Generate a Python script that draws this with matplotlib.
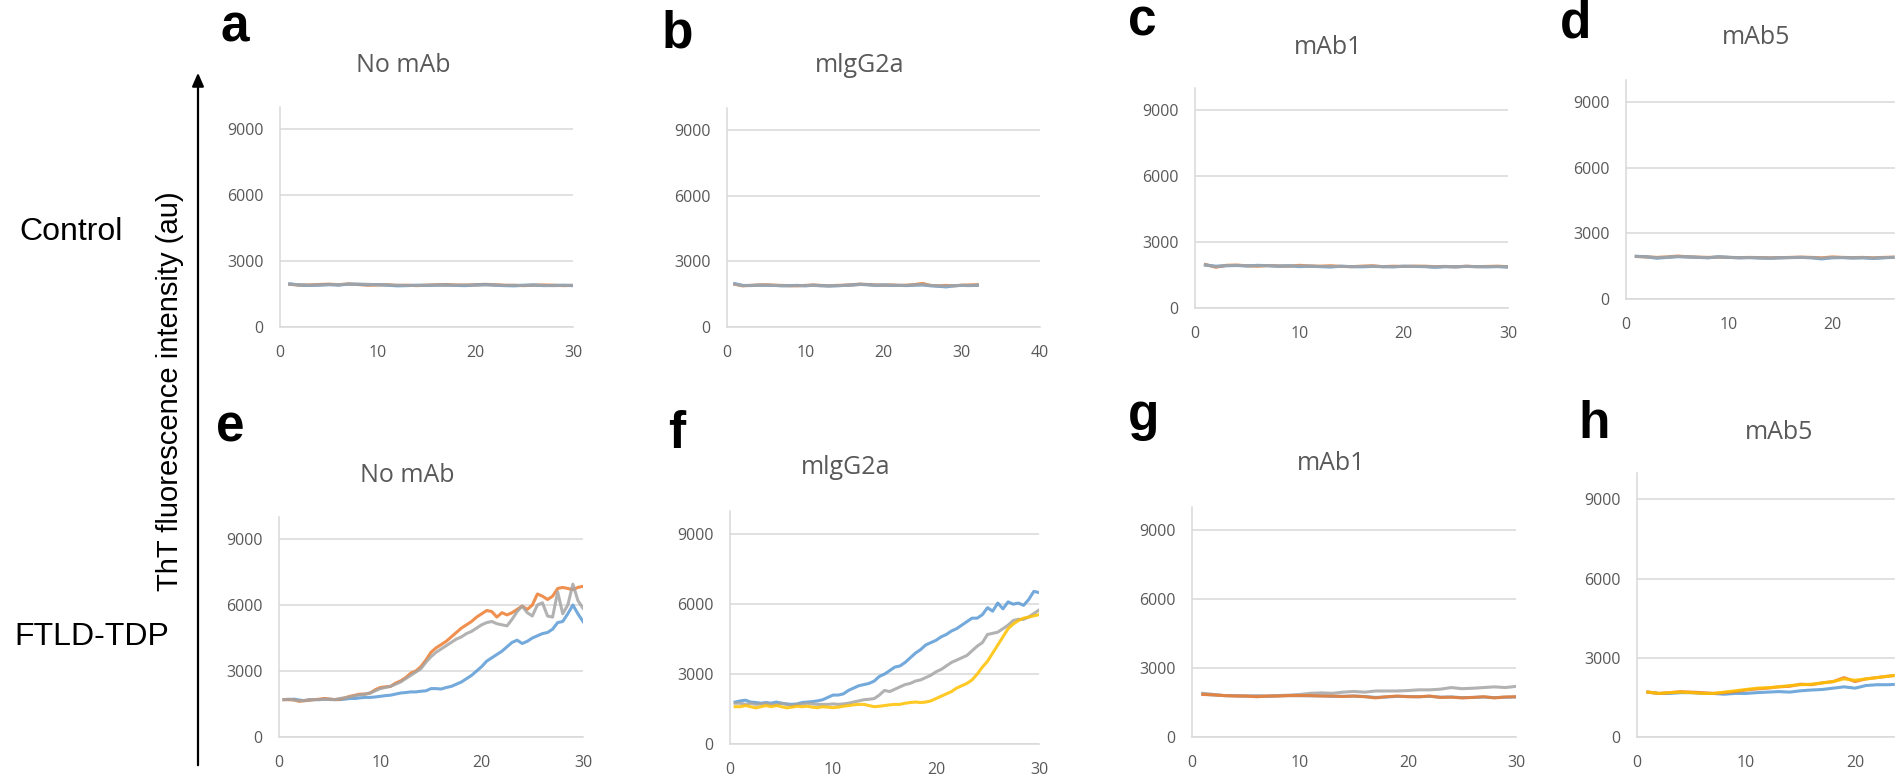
import matplotlib
matplotlib.use("Agg")
import matplotlib.pyplot as plt
import numpy as np
from matplotlib.patches import Rectangle, FancyArrowPatch

# ---- data (ThT fluorescence, au) ----
HOURS_1 = np.arange(1, 31)          # hourly reads, 1..30
HOURS_B = np.arange(1, 33)          # panel b runs a bit longer
HOURS_H = np.arange(0.5, 30.01, 0.5)  # half-hour reads for e, f

A_BLUE = [1960, 1910, 1890, 1900, 1930, 1900, 1950, 1940, 1920, 1930, 1900, 1870, 1880, 1900, 1890,
          1900, 1910, 1890, 1880, 1910, 1930, 1900, 1880, 1870, 1900, 1910, 1880, 1890, 1900, 1880]
A_ORANGE = [1940, 1900, 1910, 1930, 1950, 1920, 1960, 1930, 1900, 1910, 1920, 1890, 1900, 1880, 1900,
            1920, 1930, 1910, 1900, 1920, 1940, 1920, 1900, 1890, 1880, 1900, 1910, 1900, 1880, 1890]
A_GRAY = [1950, 1920, 1900, 1910, 1920, 1930, 1940, 1950, 1940, 1920, 1910, 1900, 1890, 1890, 1900,
          1900, 1890, 1900, 1910, 1900, 1910, 1910, 1890, 1900, 1890, 1900, 1890, 1880, 1890, 1900]

B_BLUE = [1980, 1900, 1890, 1910, 1900, 1900, 1880, 1890, 1900, 1880, 1910, 1890, 1870, 1880, 1900, 1920,
          1950, 1930, 1900, 1920, 1900, 1900, 1890, 1910, 1920, 1880, 1860, 1830, 1880, 1900, 1890, 1900]
B_ORANGE = [1950, 1880, 1900, 1920, 1930, 1910, 1900, 1890, 1880, 1900, 1920, 1900, 1880, 1900, 1910, 1930,
            1960, 1940, 1920, 1910, 1920, 1900, 1910, 1940, 1990, 1900, 1880, 1900, 1880, 1910, 1920, 1930]
B_GRAY = [1960, 1890, 1900, 1900, 1910, 1900, 1890, 1880, 1890, 1890, 1900, 1880, 1890, 1890, 1900, 1910,
          1940, 1930, 1910, 1910, 1910, 1900, 1900, 1920, 1930, 1900, 1880, 1870, 1890, 1900, 1900, 1910]

C_BLUE = [1950, 1900, 1920, 1930, 1910, 1940, 1920, 1900, 1920, 1880, 1900, 1880, 1860, 1900, 1880,
          1870, 1890, 1880, 1870, 1900, 1890, 1880, 1850, 1880, 1870, 1890, 1880, 1870, 1880, 1860]
C_ORANGE = [1980, 1850, 1940, 1950, 1920, 1900, 1930, 1910, 1900, 1940, 1910, 1900, 1920, 1890, 1880,
            1900, 1920, 1880, 1900, 1890, 1900, 1900, 1880, 1890, 1870, 1900, 1880, 1890, 1900, 1880]
C_GRAY = [1960, 1880, 1930, 1940, 1920, 1920, 1930, 1910, 1910, 1910, 1900, 1890, 1890, 1890, 1880,
          1890, 1900, 1880, 1880, 1890, 1890, 1890, 1870, 1880, 1880, 1890, 1880, 1880, 1890, 1870]

D_BLUE = [1950, 1930, 1860, 1900, 1930, 1920, 1900, 1880, 1930, 1900, 1880, 1890, 1870, 1860, 1880,
          1890, 1900, 1880, 1830, 1880, 1890, 1870, 1880, 1850, 1880, 1900, 1890, 1880, 1900, 1890]
D_ORANGE = [1940, 1920, 1900, 1920, 1960, 1930, 1910, 1900, 1910, 1900, 1890, 1900, 1890, 1880, 1890,
            1900, 1910, 1900, 1880, 1920, 1900, 1890, 1900, 1880, 1900, 1910, 1900, 1890, 1900, 1910]
D_GRAY = [1945, 1925, 1890, 1910, 1945, 1925, 1905, 1890, 1920, 1900, 1885, 1895, 1880, 1870, 1885,
          1895, 1905, 1890, 1860, 1900, 1895, 1880, 1890, 1870, 1890, 1905, 1895, 1885, 1900, 1900]

E_BLUE = [1700, 1700, 1720, 1680, 1650, 1680, 1700, 1700, 1720, 1720, 1700, 1700, 1720, 1750, 1750,
          1780, 1800, 1800, 1820, 1850, 1880, 1900, 1950, 2000, 2020, 2050, 2050, 2080, 2100, 2200,
          2200, 2180, 2250, 2300, 2400, 2500, 2650, 2800, 3000, 3200, 3450, 3600, 3750, 3900, 4100,
          4300, 4400, 4250, 4350, 4500, 4600, 4700, 4750, 4900, 5200, 5250, 5600, 6000, 5600, 5250]
E_ORANGE = [1700, 1700, 1680, 1620, 1650, 1680, 1700, 1720, 1750, 1720, 1700, 1720, 1780, 1850, 1900,
            1950, 1950, 2000, 2150, 2250, 2280, 2300, 2450, 2550, 2700, 2900, 3000, 3200, 3500, 3850,
            4050, 4200, 4350, 4550, 4750, 4950, 5100, 5250, 5450, 5600, 5750, 5700, 5450, 5650, 5550,
            5650, 5800, 5950, 5800, 6000, 6500, 6400, 6250, 6400, 6750, 6800, 6750, 6700, 6800, 6850]
E_GRAY = [1700, 1720, 1680, 1650, 1660, 1700, 1700, 1700, 1720, 1700, 1700, 1750, 1780, 1820, 1880,
          1920, 1950, 2000, 2100, 2200, 2250, 2300, 2400, 2500, 2650, 2800, 2950, 3100, 3400, 3650,
          3850, 4000, 4150, 4300, 4450, 4550, 4700, 4800, 4950, 5100, 5200, 5250, 5150, 5100, 5050,
          5350, 5700, 5950, 5650, 5500, 6000, 6100, 5500, 5450, 6600, 5600, 6000, 6950, 6200, 5850]

F_BLUE = [1800, 1850, 1880, 1800, 1780, 1750, 1780, 1750, 1800, 1750, 1720, 1700, 1720, 1780, 1800,
          1820, 1850, 1900, 2000, 2100, 2100, 2150, 2300, 2400, 2500, 2550, 2600, 2700, 2900, 3000,
          3150, 3300, 3350, 3500, 3700, 3900, 4050, 4250, 4350, 4450, 4600, 4700, 4850, 4950, 5100,
          5250, 5400, 5400, 5550, 5850, 5700, 6050, 5800, 6100, 6000, 6050, 5950, 6200, 6550, 6500]
F_GRAY = [1750, 1750, 1700, 1750, 1700, 1720, 1750, 1700, 1680, 1750, 1700, 1650, 1700, 1720, 1750,
          1720, 1700, 1700, 1700, 1720, 1700, 1720, 1750, 1800, 1850, 1900, 1920, 1950, 2100, 2300,
          2250, 2350, 2450, 2550, 2600, 2700, 2750, 2850, 2950, 3100, 3200, 3350, 3500, 3600, 3700,
          3800, 4000, 4200, 4350, 4700, 4750, 4800, 4950, 5100, 5300, 5350, 5350, 5450, 5600, 5750]
F_YELLOW = [1600, 1600, 1650, 1600, 1550, 1600, 1650, 1600, 1650, 1600, 1550, 1580, 1620, 1600, 1620,
            1580, 1560, 1600, 1580, 1560, 1580, 1620, 1650, 1680, 1700, 1700, 1650, 1600, 1620, 1650,
            1680, 1700, 1700, 1750, 1780, 1800, 1780, 1800, 1850, 1950, 2050, 2150, 2250, 2400, 2500,
            2600, 2750, 3000, 3300, 3550, 3900, 4250, 4600, 4950, 5150, 5300, 5400, 5450, 5500, 5550]

G_BLUE = [1860, 1830, 1800, 1790, 1780, 1760, 1770, 1790, 1800, 1800, 1790, 1790, 1770, 1770, 1780,
          1760, 1720, 1740, 1770, 1760, 1750, 1770, 1730, 1740, 1710, 1720, 1740, 1710, 1730, 1740]
G_ORANGE = [1850, 1830, 1800, 1780, 1780, 1750, 1780, 1780, 1800, 1800, 1800, 1780, 1780, 1760, 1780,
            1750, 1700, 1750, 1780, 1750, 1750, 1780, 1720, 1730, 1700, 1720, 1750, 1700, 1740, 1750]
G_GRAY = [1900, 1850, 1800, 1800, 1780, 1800, 1780, 1800, 1820, 1850, 1900, 1920, 1900, 1950, 1980,
          1950, 2000, 2000, 2000, 2020, 2050, 2050, 2080, 2150, 2100, 2120, 2150, 2180, 2150, 2200]

H_BLUE = [1700, 1650, 1650, 1680, 1680, 1650, 1650, 1620, 1650, 1650, 1680, 1700, 1720, 1700, 1750,
          1780, 1800, 1850, 1900, 1850, 1950, 1980, 1980, 2000, 2050, 2080, 2100, 2120, 2150, 2180]
H_ORANGE = [1700, 1650, 1680, 1720, 1700, 1680, 1650, 1680, 1720, 1780, 1820, 1850, 1900, 1920, 2000,
            1980, 2050, 2100, 2250, 2100, 2200, 2250, 2300, 2350, 2400, 2450, 2500, 2550, 2600, 2650]
H_YELLOW = [1700, 1650, 1680, 1700, 1680, 1650, 1650, 1700, 1750, 1800, 1850, 1870, 1900, 1950, 1980,
            2000, 2050, 2100, 2200, 2150, 2200, 2250, 2300, 2350, 2400, 2450, 2500, 2550, 2600, 2650]

TITLES = ["No mAb", "mlgG2a", "mAb1", "mAb5", "No mAb", "mlgG2a", "mAb1", "mAb5"]
LETTERS = list("abcdefgh")

BLUE, ORANGE, GRAY, YELLOW = "#5B9BD5", "#ED7D31", "#A5A5A5", "#FFC000"

W, H = 1902, 778
fig = plt.figure(figsize=(W / 100, H / 100), dpi=100)

TICK_FONT = "Open Sans"
TXT = "#595959"
GRID = "#D9D9D9"


def px_axes(x0, x1, y0, ytop):
    return fig.add_axes([x0 / W, 1 - y0 / H, (x1 - x0) / W, (y0 - ytop) / H])


def style(ax, xmax, xticks):
    ax.set_xlim(0, xmax)
    ax.set_ylim(0, 10000)
    ax.set_xticks(xticks)
    ax.set_yticks([0, 3000, 6000, 9000])
    ax.grid(axis="y", color=GRID, lw=1.1)
    ax.set_axisbelow(True)
    for s in ("top", "right"):
        ax.spines[s].set_visible(False)
    for s in ("left", "bottom"):
        ax.spines[s].set_color(GRID)
        ax.spines[s].set_linewidth(1.1)
    ax.tick_params(length=0, labelsize=11.5, labelcolor=TXT)
    ax.tick_params(axis="y", pad=12)
    ax.tick_params(axis="x", pad=13)
    for lab in ax.get_xticklabels() + ax.get_yticklabels():
        lab.set_fontfamily(TICK_FONT)


# (x0, x1, y of 0, y of 10000) in pixels, x-axis max, title position, letter position
# d and h run past the right edge of the source image, so their "30" is not shown
layout = [
    (280, 573, 327, 107, 30, [0, 10, 20, 30], (403, 65), (220, 42)),
    (727, 1040, 327, 108, 40, [0, 10, 20, 30, 40], (860, 65), (662, 48)),
    (1195, 1508, 308, 88, 30, [0, 10, 20, 30], (1328, 47), (1128, 35)),
    (1626, 1935, 299, 80, 30, [0, 10, 20], (1756, 38), (1560, 38)),
    (279, 583, 737, 517, 30, [0, 10, 20, 30], (407, 475), (216, 442)),
    (730, 1039, 744, 511, 30, [0, 10, 20, 30], (846, 467), (668, 448)),
    (1192, 1516, 737, 507, 30, [0, 10, 20, 30], (1331, 463), (1128, 430)),
    (1637, 1964, 737, 473, 30, [0, 10, 20], (1779, 432), (1578, 438)),
]

series = [
    [(HOURS_1, A_ORANGE, ORANGE), (HOURS_1, A_BLUE, BLUE), (HOURS_1, A_GRAY, GRAY)],
    [(HOURS_B, B_ORANGE, ORANGE), (HOURS_B, B_BLUE, BLUE), (HOURS_B, B_GRAY, GRAY)],
    [(HOURS_1, C_ORANGE, ORANGE), (HOURS_1, C_BLUE, BLUE), (HOURS_1, C_GRAY, GRAY)],
    [(HOURS_1, D_ORANGE, ORANGE), (HOURS_1, D_BLUE, BLUE), (HOURS_1, D_GRAY, GRAY)],
    [(HOURS_H, E_BLUE, BLUE), (HOURS_H, E_ORANGE, ORANGE), (HOURS_H, E_GRAY, GRAY)],
    [(HOURS_H, F_BLUE, BLUE), (HOURS_H, F_GRAY, GRAY), (HOURS_H, F_YELLOW, YELLOW)],
    [(HOURS_1, G_BLUE, BLUE), (HOURS_1, G_GRAY, GRAY), (HOURS_1, G_ORANGE, ORANGE)],
    [(HOURS_1, H_BLUE, BLUE), (HOURS_1, H_ORANGE, ORANGE), (HOURS_1, H_YELLOW, YELLOW)],
]

for (x0, x1, y0, yt, xmax, xt, tpos, lpos), lines, title, letter in zip(layout, series, TITLES, LETTERS):
    ax = px_axes(x0, x1, y0, yt)
    style(ax, xmax, xt)
    for t, v, c in lines:
        ax.plot(t, v, color=c, lw=2.2, alpha=0.85, solid_joinstyle="round")
    fig.text(tpos[0] / W, 1 - tpos[1] / H, title, ha="center", va="center",
             fontsize=18, color=TXT, family=TICK_FONT)
    fig.text(lpos[0] / W, 1 - lpos[1] / H, letter, ha="left", va="baseline",
             fontsize=37, fontweight="bold", family="Liberation Sans")

# row labels and the shared y-axis arrow
fig.text(71 / W, 1 - 232 / H, "Control", ha="center", va="center", fontsize=23, family="Liberation Sans")
fig.text(92 / W, 1 - 637 / H, "FTLD-TDP", ha="center", va="center", fontsize=23, family="Liberation Sans")
fig.text(170 / W, 1 - 391 / H, "ThT fluorescence intensity (au)", rotation=90, ha="center",
         va="center", fontsize=21, family="Liberation Sans")
fig.add_artist(FancyArrowPatch(
    (198 / W, 1 - 768 / H), (198 / W, 1 - 70 / H), transform=fig.transFigure,
    arrowstyle="-|>,head_length=8,head_width=3.5", lw=1.6, color="black", mutation_scale=1))

# the source image is cropped a few pixels short of its right edge
fig.add_artist(Rectangle((1895 / W, 0), 7 / W, 1, transform=fig.transFigure,
                         color="white", zorder=10))

fig.savefig("out.png", dpi=100)
